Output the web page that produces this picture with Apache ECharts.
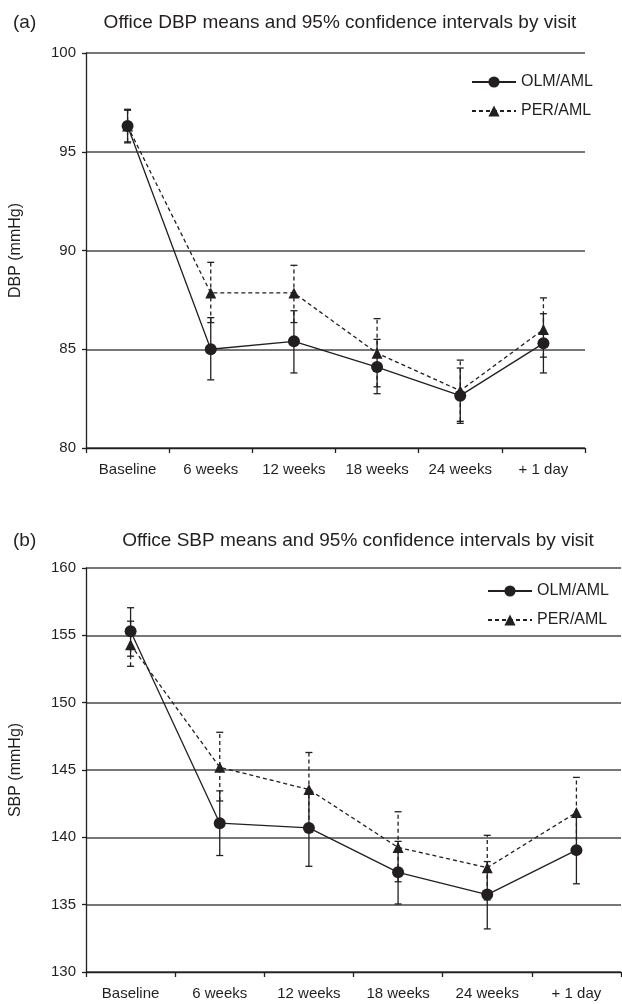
<!DOCTYPE html>
<html><head><meta charset="utf-8">
<script src="https://cdn.jsdelivr.net/npm/echarts@6/dist/echarts.min.js"></script>
<style>html,body{margin:0;padding:0;background:#fff}#c{width:622px;height:1004px}</style>
</head><body><div id="c"></div>
<script>
const categories = ['Baseline', '6 weeks', '12 weeks', '18 weeks', '24 weeks', '+ 1 day'];
const seriesNames = ['OLM/AML', 'PER/AML'];

// (a) Office DBP
const dbpOlm     = [96.3, 85.0, 85.4, 84.1, 82.65, 85.3];
const dbpOlmLow  = [95.45, 83.45, 83.8, 82.75, 81.25, 83.8];
const dbpOlmHigh = [97.15, 86.6, 86.95, 85.5, 84.05, 86.8];
const dbpPer     = [96.3, 87.85, 87.85, 84.8, 82.9, 86.0];
const dbpPerLow  = [95.5, 86.35, 86.35, 83.1, 81.35, 84.6];
const dbpPerHigh = [97.1, 89.4, 89.25, 86.55, 84.45, 87.6];

// (b) Office SBP
const sbpOlm     = [155.3, 141.05, 140.7, 137.4, 135.75, 139.05];
const sbpOlmLow  = [153.45, 138.65, 137.85, 135.05, 133.2, 136.55];
const sbpOlmHigh = [157.05, 143.45, 143.5, 139.7, 138.2, 141.6];
const sbpPer     = [154.3, 145.2, 143.55, 139.25, 137.75, 141.85];
const sbpPerLow  = [152.7, 142.7, 140.8, 136.7, 135.35, 139.25];
const sbpPerHigh = [156.05, 147.8, 146.3, 141.9, 140.15, 144.45];

const dbpTicks = [80, 85, 90, 95, 100];
const sbpTicks = [130, 135, 140, 145, 150, 155, 160];

const INK = '#231f20';
const FONT = 'Liberation Sans, Arial, sans-serif';

function errSeries(name, gi, low, high, dashed) {
  return {
    type: 'custom', name: name + ' CI', xAxisIndex: gi, yAxisIndex: gi, z: 2,
    silent: true,
    data: categories.map((c, i) => [i, low[i], high[i]]),
    encode: { x: 0, y: [1, 2] },
    renderItem: function (params, api) {
      const x = api.value(0);
      const lo = api.coord([x, api.value(1)]);
      const hi = api.coord([x, api.value(2)]);
      const w = 3.5;
      const s = { stroke: INK, lineWidth: 1.3, lineDash: dashed ? [4, 3] : null };
      const cs = { stroke: INK, lineWidth: 1.3 };
      return { type: 'group', children: [
        { type: 'line', shape: { x1: lo[0], y1: lo[1], x2: hi[0], y2: hi[1] }, style: s },
        { type: 'line', shape: { x1: lo[0] - w, y1: lo[1], x2: lo[0] + w, y2: lo[1] }, style: cs },
        { type: 'line', shape: { x1: hi[0] - w, y1: hi[1], x2: hi[0] + w, y2: hi[1] }, style: cs }
      ]};
    }
  };
}

function lineSeries(name, gi, data, dashed) {
  return {
    type: 'line', name: name, xAxisIndex: gi, yAxisIndex: gi, z: 3,
    data: data,
    symbol: dashed ? 'triangle' : 'circle',
    symbolSize: dashed ? 11 : 12,
    itemStyle: { color: INK },
    lineStyle: { color: INK, width: 1.3, type: dashed ? [4, 3] : 'solid' },
    emphasis: { disabled: true }
  };
}

function xAxis(gi) {
  return {
    type: 'category', gridIndex: gi, data: categories, boundaryGap: true,
    axisLine: { lineStyle: { color: INK, width: 1.3 } },
    axisTick: { show: true, length: 5, lineStyle: { color: INK, width: 1.3 } },
    axisLabel: { color: INK, fontSize: 15, fontFamily: FONT, margin: 14 },
    splitLine: { show: false }
  };
}
function yAxis(gi, ticks, name) {
  return {
    type: 'value', gridIndex: gi, min: ticks[0], max: ticks[ticks.length - 1], interval: 5,
    name: name, nameLocation: 'middle', nameRotate: 90, nameGap: 62,
    nameTextStyle: { color: INK, fontSize: 16, fontFamily: FONT },
    axisLine: { show: true, lineStyle: { color: INK, width: 1.3 } },
    axisTick: { show: true, length: 4, lineStyle: { color: INK, width: 1.3 } },
    axisLabel: { color: INK, fontSize: 15, fontFamily: FONT, margin: 10 },
    splitLine: { show: true, lineStyle: { color: '#4a4a4a', width: 1.6 } }
  };
}
function legend(left, top) {
  return {
    data: seriesNames, orient: 'vertical', left: left, top: top,
    itemWidth: 44, itemHeight: 14, itemGap: 13, selectedMode: false,
    textStyle: { color: INK, fontSize: 16, fontFamily: FONT, lineHeight: 14 }
  };
}

const chart = echarts.init(document.getElementById('c'), null, { renderer: 'canvas' });
chart.setOption({
  animation: false,
  backgroundColor: '#fff',
  title: [
    { text: '(a)', left: 8, top: 8, textStyle: { color: INK, fontSize: 19, fontWeight: 'normal', fontFamily: FONT } },
    { text: 'Office DBP means and 95% confidence intervals by visit', left: 335, top: 8, textAlign: 'center',
      textStyle: { color: INK, fontSize: 19, fontWeight: 'normal', fontFamily: FONT } },
    { text: '(b)', left: 8, top: 526, textStyle: { color: INK, fontSize: 19, fontWeight: 'normal', fontFamily: FONT } },
    { text: 'Office SBP means and 95% confidence intervals by visit', left: 353, top: 526, textAlign: 'center',
      textStyle: { color: INK, fontSize: 19, fontWeight: 'normal', fontFamily: FONT } }
  ],
  legend: [legend(466, 69), legend(482, 578)],
  grid: [
    { left: 85, top: 53, width: 500, height: 395 },
    { left: 85, top: 568, width: 536, height: 404 }
  ],
  xAxis: [xAxis(0), xAxis(1)],
  yAxis: [yAxis(0, dbpTicks, 'DBP (mmHg)'), yAxis(1, sbpTicks, 'SBP (mmHg)')],
  series: [
    errSeries('OLM/AML', 0, dbpOlmLow, dbpOlmHigh, false),
    errSeries('PER/AML', 0, dbpPerLow, dbpPerHigh, true),
    lineSeries('OLM/AML', 0, dbpOlm, false),
    lineSeries('PER/AML', 0, dbpPer, true),
    errSeries('OLM/AML', 1, sbpOlmLow, sbpOlmHigh, false),
    errSeries('PER/AML', 1, sbpPerLow, sbpPerHigh, true),
    lineSeries('OLM/AML', 1, sbpOlm, false),
    lineSeries('PER/AML', 1, sbpPer, true)
  ]
});
</script>
</body></html>
